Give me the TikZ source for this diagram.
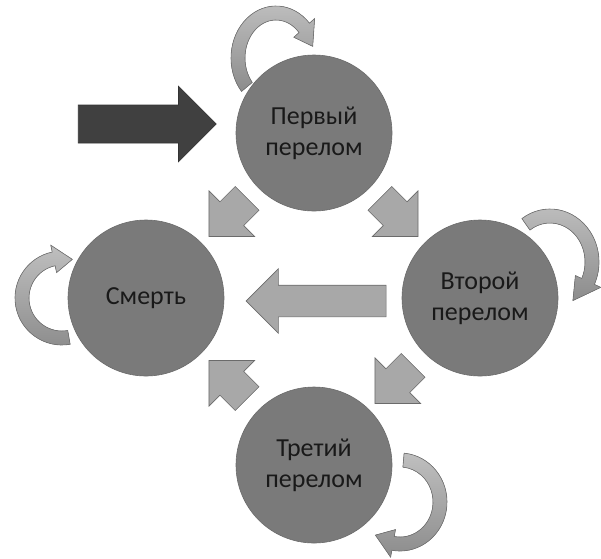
\documentclass[tikz,border=0pt]{standalone}
\usepackage{fontspec}
\setmainfont{Carlito}
\usetikzlibrary{shapes.arrows,calc}
\definecolor{stagegray}{gray}{0.48}
\definecolor{flowgray}{gray}{0.66}
\definecolor{edgegray}{gray}{0.42}
% curved self arrow: centre, x radius, y radius, tail angle, head angle, tip angle
\newcommand{\bentarrow}[6]{%
  \filldraw[loopband] ($#1+(#4:#2+7 and #3+7)$)
    arc[start angle=#4, end angle=#5, x radius=#2+7, y radius=#3+7]
    -- ($#1+(#5:#2+14 and #3+14)$) -- ($#1+(#6:#2 and #3)$)
    -- ($#1+(#5:#2-14 and #3-14)$) -- ($#1+(#5:#2-7 and #3-7)$)
    arc[start angle=#5, end angle=#4, x radius=#2-7, y radius=#3-7] -- cycle;}
\begin{document}
\begin{tikzpicture}[x=1pt, y=-1pt,
  stage/.style={circle, fill=stagegray, draw=edgegray, line width=0.6pt,
    minimum size=156pt, inner sep=0pt, align=center, text=black!90,
    font=\fontsize{26}{31}\selectfont},
  flowarrow/.style={single arrow, fill=flowgray, draw=edgegray, line width=0.6pt,
    inner xsep=0pt, inner ysep=16.5pt, minimum height=54pt,
    single arrow head extend=15.5pt},
  inarrow/.style={single arrow, fill=black!75, draw=black!80, line width=0.6pt,
    inner xsep=0pt, inner ysep=18.7pt, minimum height=138pt,
    single arrow head extend=18.8pt},
  loopband/.style={top color=black!25, bottom color=black!45, draw=black!55, line width=0.6pt}]
\useasboundingbox (0,0) rectangle (601,558);
\node[stage] (first) at (314,133) {Первый\\перелом};
\node[stage] (death) at (146,298) {Смерть};
\node[stage] (second) at (480,298) {Второй\\перелом};
\node[stage] (third) at (314,465) {Третий\\перелом};
\node[inarrow, anchor=tip] (start) at ([xshift=-19pt, yshift=9pt]first.west) {};
\node[flowarrow, rotate=225] (fall1) at ($(first)!0.5!(death)+(4,-4)$) {};
\node[flowarrow, rotate=315] (next1) at ($(first)!0.5!(second)+(-4,-4)$) {};
\node[flowarrow, rotate=225] (next2) at ($(second)!0.5!(third)+(3,-3)$) {};
\node[flowarrow, rotate=135] (fall3) at ($(third)!0.5!(death)+(4,4)$) {};
\node[flowarrow, rotate=180, inner ysep=15.5pt, single arrow head extend=16.5pt,
  minimum height=140pt] (fall2) at ($(second)!0.5!(death)+(11,3)$) {};
\bentarrow{(276,58)}{38}{45}{140}{318}{345}
\bentarrow{(550,262)}{42}{46}{235}{385}{417}
\bentarrow{(62,298)}{40}{40}{80}{258}{285}
\bentarrow{(400,502)}{40}{42}{-85}{100}{128}
\end{tikzpicture}
\end{document}
